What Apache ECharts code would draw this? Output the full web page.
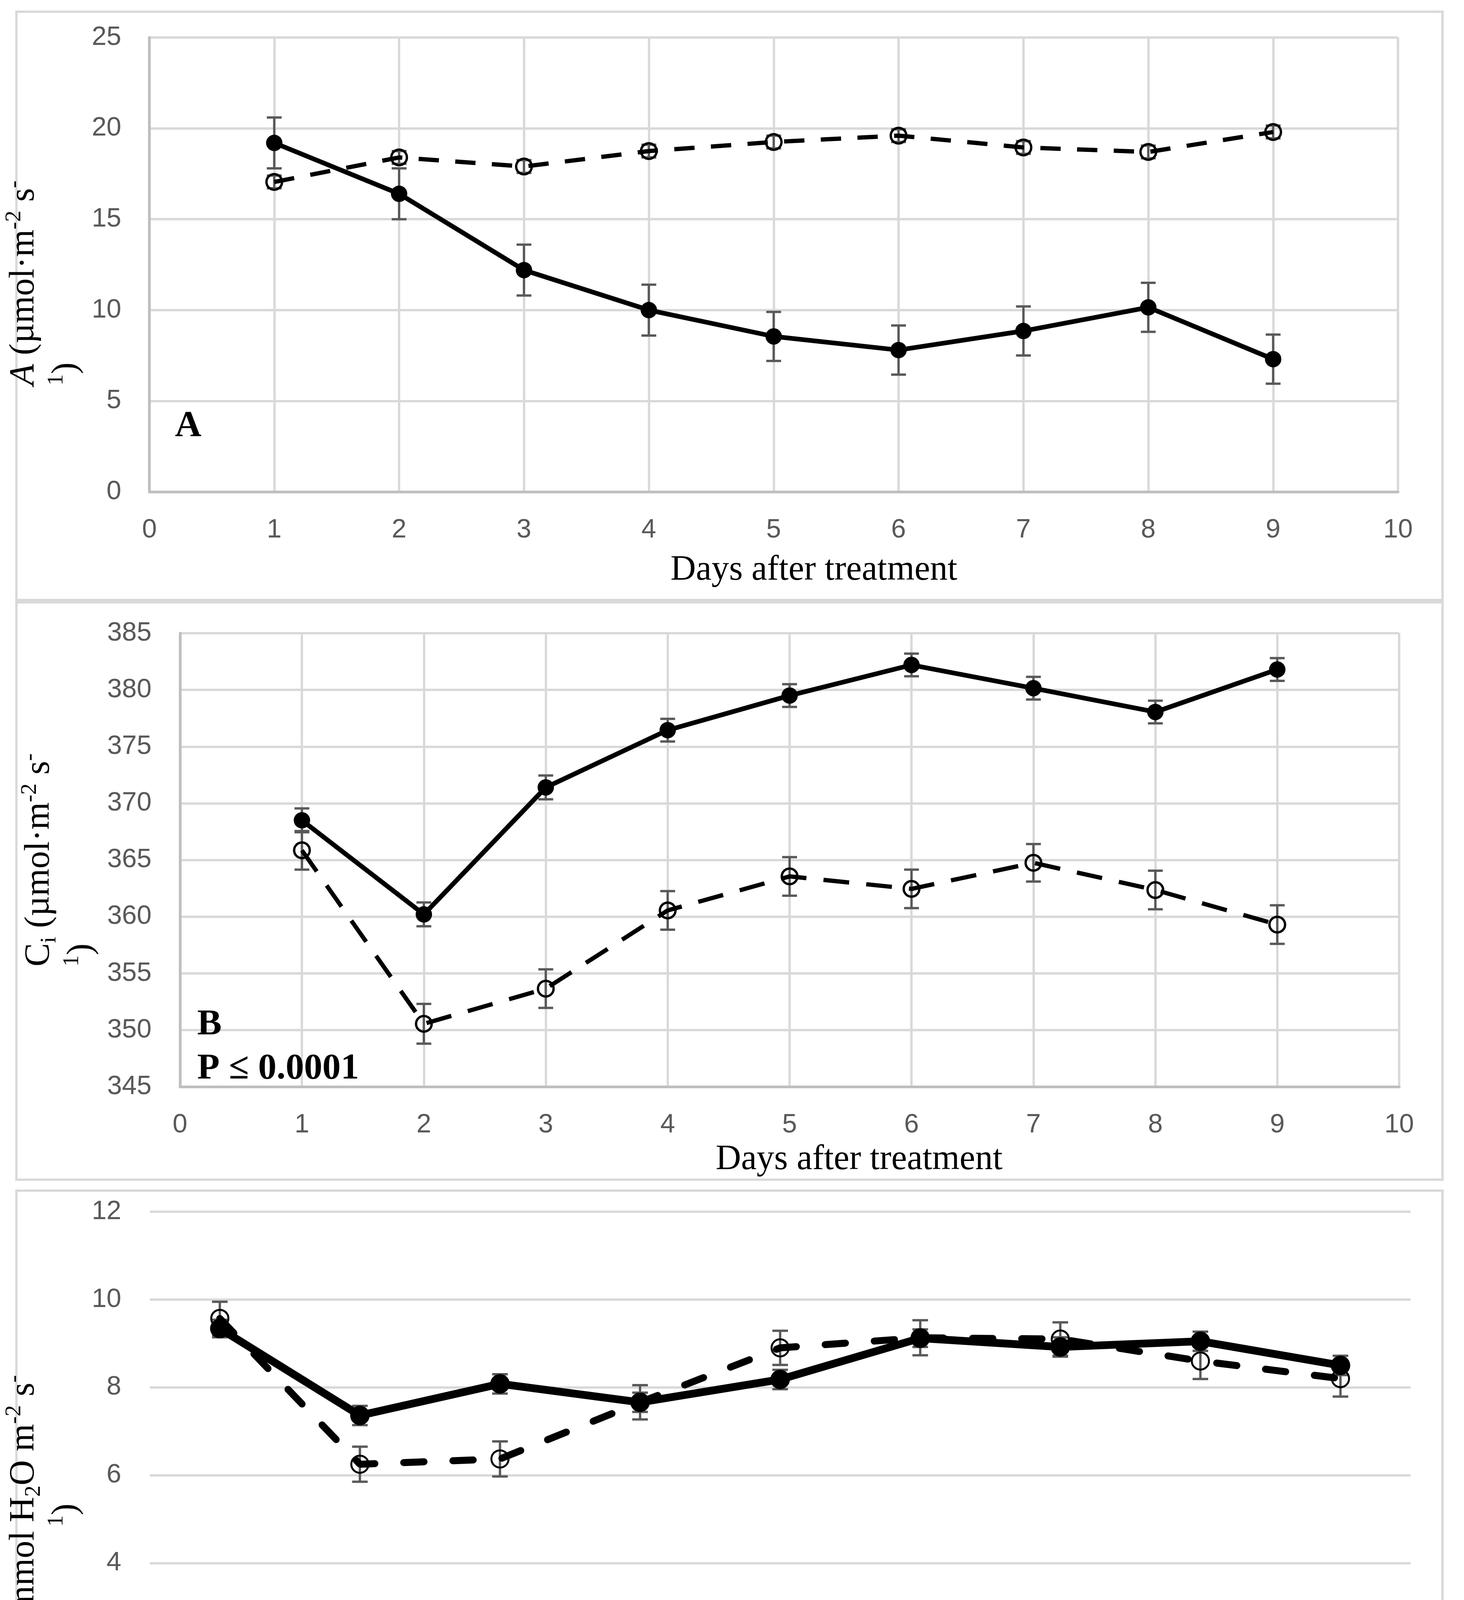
<!DOCTYPE html>
<html>
<head>
<meta charset="utf-8">
<script src="https://cdn.jsdelivr.net/npm/echarts@6/dist/echarts.min.js"></script>
<style>
html,body{margin:0;padding:0;background:#fff;}
#chart{width:3749px;height:4822px;}
</style>
</head>
<body>
<div id="chart"></div>
<script>
// ---------- data ----------
const days = [1, 2, 3, 4, 5, 6, 7, 8, 9];
const dayLabels = ['1', '2', '3', '4', '5', '6', '7', '8', '9'];

// Panel A: net photosynthesis
const aSolid    = [19.2, 16.4, 12.2, 10.0, 8.55, 7.8, 8.85, 10.15, 7.3];
const aSolidErr = [1.4, 1.4, 1.4, 1.4, 1.35, 1.35, 1.35, 1.35, 1.35];
const aOpen     = [17.05, 18.4, 17.9, 18.75, 19.25, 19.6, 18.95, 18.7, 19.8];
const aOpenErr  = [0.35, 0.35, 0.35, 0.35, 0.35, 0.35, 0.35, 0.35, 0.35];

// Panel B: intercellular CO2
const ciSolid    = [368.5, 360.2, 371.4, 376.45, 379.5, 382.2, 380.15, 378.05, 381.8];
const ciSolidErr = [1.05, 1.05, 1.05, 1.0, 1.0, 1.0, 1.0, 1.0, 1.0];
const ciOpen     = [365.85, 350.55, 353.65, 360.55, 363.55, 362.45, 364.75, 362.35, 359.3];
const ciOpenErr  = [1.7, 1.75, 1.7, 1.7, 1.7, 1.7, 1.65, 1.7, 1.7];

// Panel C: transpiration
const eSolid    = [9.34, 7.36, 8.08, 7.66, 8.18, 9.12, 8.92, 9.05, 8.5];
const eSolidErr = [0.2, 0.22, 0.22, 0.22, 0.22, 0.2, 0.22, 0.22, 0.22];
const eOpen     = [9.57, 6.25, 6.37, 7.66, 8.9, 9.13, 9.1, 8.6, 8.2];
const eOpenErr  = [0.38, 0.4, 0.4, 0.39, 0.39, 0.4, 0.38, 0.41, 0.41];

// ---------- helpers ----------
const SERIF = "'Liberation Serif','Times New Roman',serif";
const TICKF = "'Liberation Sans Narrow','Arial Narrow','Liberation Sans',sans-serif";
const GRID_C = '#D9D9D9';
const AXIS_C = '#BFBFBF';
const ERR_C = '#595959';

function pairs(xs, ys) { return xs.map((x, i) => [x, ys[i]]); }
function errData(xs, ys, es) { return xs.map((x, i) => [x, ys[i] - es[i], ys[i] + es[i]]); }

function errRender(capHalf, lw) {
  return function (params, api) {
    const x = api.value(0), lo = api.value(1), hi = api.value(2);
    const p1 = api.coord([x, lo]);
    const p2 = api.coord([x, hi]);
    const st = { stroke: ERR_C, lineWidth: lw };
    return {
      type: 'group',
      children: [
        { type: 'line', shape: { x1: p1[0], y1: p1[1], x2: p2[0], y2: p2[1] }, style: st },
        { type: 'line', shape: { x1: p1[0] - capHalf, y1: p1[1], x2: p1[0] + capHalf, y2: p1[1] }, style: st },
        { type: 'line', shape: { x1: p2[0] - capHalf, y1: p2[1], x2: p2[0] + capHalf, y2: p2[1] }, style: st }
      ]
    };
  };
}

const richBase = {
  it:   { fontFamily: SERIF, fontSize: 90, lineHeight: 108, fontStyle: 'italic', color: '#000' },
  c:    { fontFamily: SERIF, fontSize: 90, lineHeight: 108, color: '#000' },
  sup:  { fontFamily: SERIF, fontSize: 58, lineHeight: 58, verticalAlign: 'top', color: '#000' },
  sub:  { fontFamily: SERIF, fontSize: 58, lineHeight: 58, verticalAlign: 'bottom', color: '#000' },
  supL: { fontFamily: SERIF, fontSize: 58, lineHeight: 58, verticalAlign: 'top', align: 'left', color: '#000' },
  nL:   { fontFamily: SERIF, fontSize: 90, lineHeight: 108, align: 'left', color: '#000' }
};

function valueXAxis(gridIndex, padLeft, gap) {
  return {
    type: 'value', gridIndex: gridIndex, min: 0, max: 10, interval: 1,
    axisLine: { show: true, onZero: false, lineStyle: { color: AXIS_C, width: 7 } },
    axisTick: { show: false },
    axisLabel: { color: '#595959', fontFamily: TICKF, fontSize: 68, margin: 64 },
    splitLine: { show: true, lineStyle: { color: GRID_C, width: 6 } },
    name: 'Days after treatment', nameLocation: 'middle', nameGap: gap,
    nameTextStyle: { fontFamily: SERIF, fontSize: 90, lineHeight: 108, color: '#000', padding: [0, 0, 0, padLeft] }
  };
}

const option = {
  animation: false,
  backgroundColor: '#fff',
  grid: [
    { left: 379, top: 96, width: 3201, height: 1163 },
    { left: 461, top: 1621, width: 3122, height: 1161 },
    { left: 356, top: 3102, width: 3256, height: 1349 }
  ],
  xAxis: [
    valueXAxis(0, 206, 147),
    valueXAxis(1, 356, 124),
    {
      type: 'category', gridIndex: 2, data: dayLabels, boundaryGap: true,
      axisLine: { show: false }, axisTick: { show: false },
      axisLabel: { color: '#595959', fontFamily: TICKF, fontSize: 68, margin: 66 },
      splitLine: { show: false },
      name: 'Days after treatment', nameLocation: 'middle', nameGap: 150,
      nameTextStyle: { fontFamily: SERIF, fontSize: 90, lineHeight: 108, color: '#000', padding: [0, 0, 0, 278] }
    }
  ],
  yAxis: [
    {
      type: 'value', gridIndex: 0, min: 0, max: 25, interval: 5,
      axisLine: { show: true, lineStyle: { color: AXIS_C, width: 7 } },
      axisTick: { show: false },
      axisLabel: { color: '#595959', fontFamily: TICKF, fontSize: 68, margin: 72 },
      splitLine: { show: true, lineStyle: { color: GRID_C, width: 6 } },
      name: '{it|A} (µmol·m{sup|-2} s{sup|-}\n{supL|1}{nL|)}',
      nameLocation: 'middle', nameRotate: 90, nameGap: 61,
      nameTextStyle: { fontFamily: SERIF, fontSize: 90, lineHeight: 108, color: '#000', padding: [0, 94, 0, 0], rich: richBase }
    },
    {
      type: 'value', gridIndex: 1, min: 345, max: 385, interval: 5,
      axisLine: { show: true, lineStyle: { color: AXIS_C, width: 7 } },
      axisTick: { show: false },
      axisLabel: { color: '#595959', fontFamily: TICKF, fontSize: 68, margin: 73 },
      splitLine: { show: true, lineStyle: { color: GRID_C, width: 6 } },
      name: '{c|C}{sub|i} (µmol·m{sup|-2} s{sup|-}\n{supL|1}{nL|)}',
      nameLocation: 'middle', nameRotate: 90, nameGap: 92,
      nameTextStyle: { fontFamily: SERIF, fontSize: 90, lineHeight: 108, color: '#000', rich: richBase }
    },
    {
      type: 'value', gridIndex: 2, min: 0, max: 12, interval: 2,
      axisLine: { show: false }, axisTick: { show: false },
      axisLabel: { color: '#595959', fontFamily: TICKF, fontSize: 68, margin: 73 },
      splitLine: { show: true, lineStyle: { color: GRID_C, width: 6 } },
      name: '{it|E} (mmol H{sub|2}O m{sup|-2} s{sup|-}\n{sup|1})',
      nameLocation: 'middle', nameRotate: 90, nameGap: 38,
      nameTextStyle: { fontFamily: SERIF, fontSize: 90, lineHeight: 108, color: '#000', padding: [0, 204, 0, 0], rich: richBase }
    }
  ],
  series: [
    // ---- Panel A ----
    { type: 'custom', xAxisIndex: 0, yAxisIndex: 0, z: 1, renderItem: errRender(19, 6),
      encode: { x: 0, y: [1, 2] }, data: errData(days, aSolid, aSolidErr) },
    { type: 'custom', xAxisIndex: 0, yAxisIndex: 0, z: 1, renderItem: errRender(19, 6),
      encode: { x: 0, y: [1, 2] }, data: errData(days, aOpen, aOpenErr) },
    { type: 'line', xAxisIndex: 0, yAxisIndex: 0, z: 3, data: pairs(days, aSolid),
      symbol: 'circle', symbolSize: 42, itemStyle: { color: '#000' },
      lineStyle: { color: '#000', width: 12 } },
    { type: 'line', xAxisIndex: 0, yAxisIndex: 0, z: 4, data: pairs(days, aOpen),
      symbol: 'circle', symbolSize: 40,
      itemStyle: { color: 'rgba(0,0,0,0)', borderColor: '#000', borderWidth: 6 },
      lineStyle: { color: '#000', width: 11, type: [52, 42] } },
    // ---- Panel B ----
    { type: 'custom', xAxisIndex: 1, yAxisIndex: 1, z: 1, renderItem: errRender(19, 6),
      encode: { x: 0, y: [1, 2] }, data: errData(days, ciSolid, ciSolidErr) },
    { type: 'custom', xAxisIndex: 1, yAxisIndex: 1, z: 1, renderItem: errRender(19, 6),
      encode: { x: 0, y: [1, 2] }, data: errData(days, ciOpen, ciOpenErr) },
    { type: 'line', xAxisIndex: 1, yAxisIndex: 1, z: 3, data: pairs(days, ciSolid),
      symbol: 'circle', symbolSize: 42, itemStyle: { color: '#000' },
      lineStyle: { color: '#000', width: 12 } },
    { type: 'line', xAxisIndex: 1, yAxisIndex: 1, z: 4, data: pairs(days, ciOpen),
      symbol: 'circle', symbolSize: 40,
      itemStyle: { color: 'rgba(0,0,0,0)', borderColor: '#000', borderWidth: 6 },
      lineStyle: { color: '#000', width: 11, type: [66, 44] } },
    // ---- Panel C ----
    { type: 'custom', xAxisIndex: 2, yAxisIndex: 2, z: 1, renderItem: errRender(20, 6),
      encode: { x: 0, y: [1, 2] }, data: errData(days.map((d, i) => i), eSolid, eSolidErr) },
    { type: 'custom', xAxisIndex: 2, yAxisIndex: 2, z: 1, renderItem: errRender(20, 6),
      encode: { x: 0, y: [1, 2] }, data: errData(days.map((d, i) => i), eOpen, eOpenErr) },
    { type: 'line', xAxisIndex: 2, yAxisIndex: 2, z: 3, data: eSolid,
      symbol: 'circle', symbolSize: 50, itemStyle: { color: '#000' },
      lineStyle: { color: '#000', width: 20 } },
    { type: 'line', xAxisIndex: 2, yAxisIndex: 2, z: 4, data: eOpen,
      symbol: 'circle', symbolSize: 44,
      itemStyle: { color: 'rgba(0,0,0,0)', borderColor: '#000', borderWidth: 5 },
      lineStyle: { color: '#000', width: 18, type: [52, 74], cap: 'round' } }
  ],
  graphic: [
    { type: 'rect', z: 0, shape: { x: 42, y: 30, width: 3652, height: 1506 },
      style: { fill: 'none', stroke: GRID_C, lineWidth: 6 } },
    { type: 'rect', z: 0, shape: { x: 42, y: 1542, width: 3652, height: 1478 },
      style: { fill: 'none', stroke: GRID_C, lineWidth: 6 } },
    { type: 'rect', z: 0, shape: { x: 42, y: 3048, width: 3652, height: 1730 },
      style: { fill: 'none', stroke: GRID_C, lineWidth: 6 } },
    { type: 'text', x: 448, y: 1092, z: 10,
      style: { text: 'A', font: 'bold 94px ' + SERIF, fill: '#000', align: 'left', verticalAlign: 'middle' } },
    { type: 'text', x: 505, y: 2624, z: 10,
      style: { text: 'B', font: 'bold 94px ' + SERIF, fill: '#000', align: 'left', verticalAlign: 'middle' } },
    { type: 'text', x: 505, y: 2737, z: 10,
      style: { text: 'P ≤ 0.0001', font: 'bold 94px ' + SERIF, fill: '#000', align: 'left', verticalAlign: 'middle' } },
    { type: 'text', x: 412, y: 4296, z: 10,
      style: { text: 'C', font: 'bold 94px ' + SERIF, fill: '#000', align: 'left', verticalAlign: 'middle' } },
    { type: 'text', x: 412, y: 4411, z: 10,
      style: { text: 'P ≤ 0.001', font: 'bold 94px ' + SERIF, fill: '#000', align: 'left', verticalAlign: 'middle' } }
  ]
};

const chart = echarts.init(document.getElementById('chart'), null, { renderer: 'canvas', width: 3749, height: 4822 });
chart.setOption(option);
</script>
</body>
</html>
